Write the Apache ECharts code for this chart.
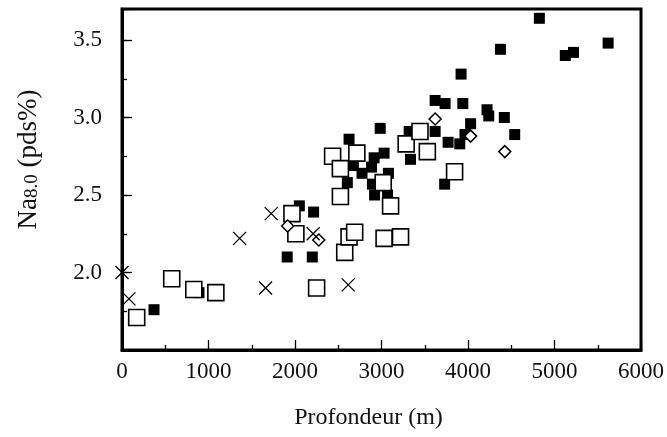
<!DOCTYPE html>
<html>
<head>
<meta charset="utf-8">
<script src="https://cdn.jsdelivr.net/npm/echarts@6/dist/echarts.min.js"></script>
<style>html,body{margin:0;padding:0;background:#fff;}#c{width:667px;height:437px;}</style>
</head>
<body>
<div id="c"></div>
<script>
// Depth (m), Na8.0 (pds%)
var filledSquares = [
  [370,1.76],[890,1.87],[1910,2.10],[2200,2.10],[2050,2.43],[2215,2.39],
  [2490,2.66],[2605,2.58],[2625,2.86],[2675,2.69],[2775,2.64],[2885,2.68],
  [2895,2.57],[2920,2.50],[2915,2.74],[2985,2.93],[3030,2.77],[3070,2.50],
  [3080,2.64],[3320,2.91],[3335,2.73],[3620,2.91],[3620,3.11],[3730,2.57],
  [3735,3.09],[3770,2.84],[3905,2.83],[3920,3.28],[3940,3.09],[3965,2.89],
  [4030,2.96],[4220,3.05],[4240,3.01],[4375,3.44],[4420,3.00],[4540,2.89],
  [4825,3.64],[5125,3.40],[5220,3.42],[5620,3.48]
];
var openSquares = [
  [170,1.71],[575,1.96],[830,1.89],[1085,1.87],[1965,2.38],[2010,2.25],
  [2250,1.90],[2435,2.75],[2525,2.67],[2525,2.49],[2575,2.13],[2625,2.23],
  [2690,2.26],[2715,2.77],[3020,2.58],[3030,2.22],[3105,2.43],[3220,2.23],
  [3285,2.83],[3445,2.91],[3530,2.78],[3845,2.65]
];
var diamonds = [
  [1915,2.30],[2275,2.21],[3620,2.99],[4030,2.88],[4425,2.78]
];
var crosses = [
  [0,2.00],[80,1.83],[1360,2.22],[1660,1.90],[1725,2.38],[2210,2.25],[2615,1.92]
];
var xTicks = {min:0, max:6000, step:1000};
var yTicks = {min:1.5, max:3.7, step:0.5};

var FONT = "'Liberation Serif', 'Times New Roman', Times, serif";
var chart = echarts.init(document.getElementById('c'), null, {renderer:'canvas'});
chart.setOption({
  animation: false,
  backgroundColor: '#fff',
  grid: {left:122, right:24, top:9, bottom:87, show:true, borderColor:'#000', borderWidth:3, backgroundColor:'transparent'},
  xAxis: {
    type:'value', min:xTicks.min, max:xTicks.max, interval:xTicks.step,
    name:'Profondeur (m)', nameLocation:'middle', nameGap:56,
    nameTextStyle:{fontFamily:FONT, fontSize:24, color:'#111', padding:[0,26,0,0]},
    axisLine:{show:true, lineStyle:{color:'#000', width:3}},
    axisTick:{show:true, inside:true, length:10, lineStyle:{color:'#000', width:1.3}},
    minorTick:{show:true, splitNumber:2, length:5, lineStyle:{color:'#000', width:1.3}},
    axisLabel:{fontFamily:FONT, fontSize:23, color:'#111', margin:10,
      formatter:function(v){ return String(Math.round(v)); }},
    splitLine:{show:false}
  },
  yAxis: [{
    type:'value', min:yTicks.min, max:yTicks.max, interval:yTicks.step,
    name:'{a|Na}{s|8.0}{a| (pds%)}', nameLocation:'middle', nameGap:80,
    nameTextStyle:{fontFamily:FONT, fontSize:27, color:'#111', padding:[0,0,0,40],
      rich:{a:{fontFamily:FONT, fontSize:27, color:'#111'}, s:{fontFamily:FONT, fontSize:19, color:'#111', verticalAlign:'bottom'}}},
    axisLine:{show:true, lineStyle:{color:'#000', width:3}},
    axisTick:{show:true, inside:true, length:10, lineStyle:{color:'#000', width:1.3}},
    axisLabel:{fontFamily:FONT, fontSize:23, color:'#111', margin:20,
      formatter:function(v){ return (v < 1.9 || v > 3.6) ? '' : v.toFixed(1); }},
    splitLine:{show:false}
  },{
    type:'value', position:'left', min:yTicks.min, max:yTicks.max, interval:yTicks.step/2,
    axisLine:{show:false}, axisLabel:{show:false}, splitLine:{show:false},
    axisTick:{show:true, inside:true, length:5, lineStyle:{color:'#000', width:1.3}}
  }],
  series: [
    {type:'scatter', data:filledSquares, symbol:'rect', symbolSize:11,
      itemStyle:{color:'#000', opacity:1}, z:2},
    {type:'scatter', data:openSquares, symbol:'rect', symbolSize:16,
      itemStyle:{color:'#fff', borderColor:'#000', borderWidth:1.6, opacity:1}, z:3},
    {type:'scatter', data:diamonds, symbol:'diamond', symbolSize:[12,12],
      itemStyle:{color:'#fff', borderColor:'#000', borderWidth:1.5, opacity:1}, z:4},
    {type:'scatter', data:crosses, symbol:'path://M0,0L10,10M10,0L0,10', symbolSize:13,
      itemStyle:{color:'transparent', borderColor:'#000', borderWidth:1.3, opacity:1}, z:5}
  ]
});
</script>
</body>
</html>
